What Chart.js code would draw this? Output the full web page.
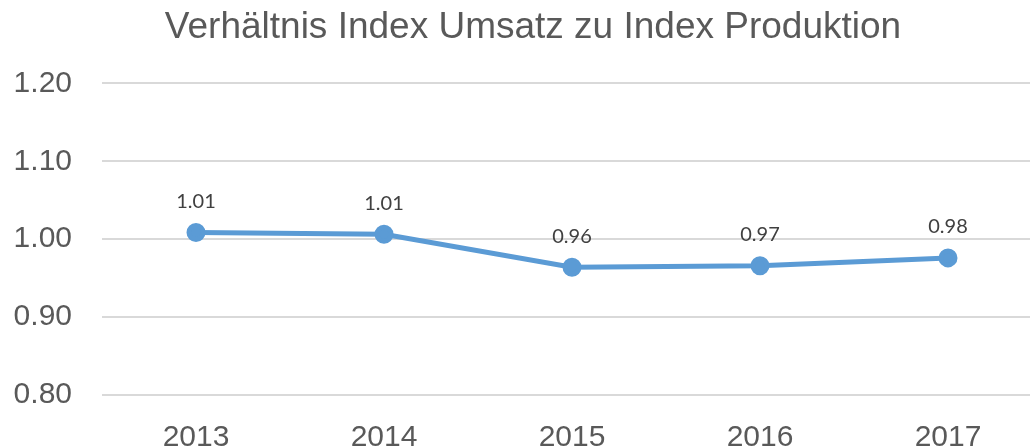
<!DOCTYPE html>
<html>
<head>
<meta charset="utf-8">
<script src="https://cdn.jsdelivr.net/npm/chart.js@4"></script>
<style>
  html, body { margin: 0; padding: 0; background: #fff; overflow: hidden; }
  #wrap { width: 1066px; height: 448px; }
</style>
</head>
<body>
<div id="wrap"><canvas id="chart"></canvas></div>
<script>
// Daten
const years = ["2013", "2014", "2015", "2016", "2017"];
const ratio = [1.0086, 1.0064, 0.964, 0.966, 0.976];
const yTicks = [0.8, 0.9, 1.0, 1.1, 1.2];

const textGrey = "#595959";
const lineBlue = "#5B9BD5";

// Werte ueber den Punkten anzeigen
const valueLabels = {
    id: "valueLabels",
    afterDatasetsDraw(chart) {
        const ctx = chart.ctx;
        const meta = chart.getDatasetMeta(0);
        ctx.save();
        ctx.font = "20px Lato, 'Liberation Sans', sans-serif";
        ctx.fillStyle = "#404040";
        ctx.textAlign = "center";
        ctx.textBaseline = "middle";
        meta.data.forEach((pt, i) => {
            ctx.fillText(ratio[i].toFixed(2), pt.x, pt.y - 31);
        });
        ctx.restore();
    }
};

new Chart(document.getElementById("chart"), {
    type: "line",
    data: {
        labels: years,
        datasets: [{
            data: ratio,
            borderColor: lineBlue,
            backgroundColor: lineBlue,
            borderWidth: 5,
            pointRadius: 7,
            pointHoverRadius: 7,
            tension: 0
        }]
    },
    options: {
        responsive: true,
        maintainAspectRatio: false,
        animation: false,
        layout: { padding: 0 },
        plugins: {
            legend: { display: false },
            tooltip: { enabled: false },
            title: {
                display: true,
                text: "Verhältnis Index Umsatz zu Index Produktion",
                color: textGrey,
                font: { family: "'Liberation Sans', Arial, sans-serif", size: 37, weight: "normal" },
                padding: { top: 6, bottom: 33 }
            }
        },
        scales: {
            x: {
                offset: true,
                grid: { display: false },
                border: { display: false },
                ticks: {
                    color: textGrey,
                    padding: 17,
                    font: { family: "'Liberation Sans', Arial, sans-serif", size: 30 }
                },
                afterFit(scale) { scale.height = 53; }
            },
            y: {
                min: yTicks[0],
                max: yTicks[yTicks.length - 1],
                afterBuildTicks(scale) {
                    scale.ticks = yTicks.map(v => ({ value: v }));
                },
                grid: { color: "#D9D9D9", lineWidth: 2, drawTicks: false },
                border: { display: false },
                ticks: {
                    color: textGrey,
                    padding: 30,
                    font: { family: "'Liberation Sans', Arial, sans-serif", size: 30 },
                    callback: v => Number(v).toFixed(2)
                },
                afterFit(scale) { scale.width = 102; }
            },
            // leerer Platzhalter rechts, damit der Titel mittig bleibt
            yRight: {
                position: "right",
                grid: { display: false },
                border: { display: false },
                ticks: { display: false },
                afterFit(scale) { scale.width = 24; }
            }
        }
    },
    plugins: [valueLabels]
});
</script>
</body>
</html>
